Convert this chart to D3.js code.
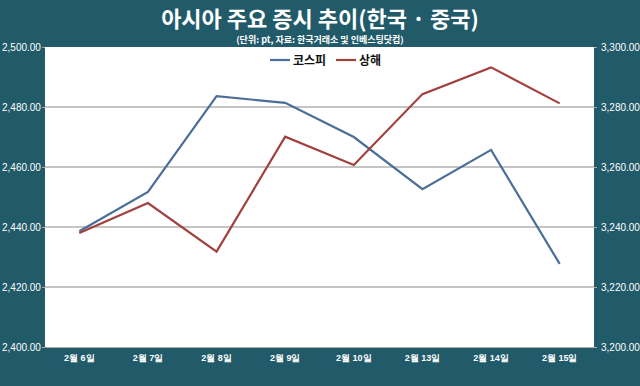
<!DOCTYPE html>
<html>
<head>
<meta charset="utf-8">
<script src="https://cdn.jsdelivr.net/npm/d3@7"></script>
<style>
  html, body { margin: 0; padding: 0; background: #215a69; }
  svg { display: block; font-family: "Noto Sans CJK KR", "Noto Sans", sans-serif; }
</style>
</head>
<body>
<div id="chart"></div>
<script>
// data
const dates = ['2월 6일', '2월 7일', '2월 8일', '2월 9일', '2월 10일', '2월 13일', '2월 14일', '2월 15일'];
const kospi = [2438.6, 2451.7, 2483.6, 2481.4, 2470.0, 2452.6, 2465.7, 2427.7];
const shanghai = [3238.0, 3248.0, 3231.8, 3270.1, 3260.7, 3284.3, 3293.2, 3281.2];
const leftTicks = [2400, 2420, 2440, 2460, 2480, 2500];
const rightTicks = [3200, 3220, 3240, 3260, 3280, 3300];

const width = 640, height = 386;
const margin = { top: 47, right: 46, bottom: 39, left: 45 };

const svg = d3.select('#chart').append('svg')
    .attr('width', width)
    .attr('height', height);

svg.append('rect')
    .attr('width', width).attr('height', height)
    .attr('fill', '#215a69');

// title + subtitle
svg.append('text')
    .attr('x', 320).attr('y', 27)
    .attr('text-anchor', 'middle')
    .attr('fill', '#fff')
    .attr('font-size', 22)
    .attr('font-weight', 'bold')
    .text('아시아 주요 증시 추이(한국 · 중국)');

svg.append('text')
    .attr('x', 320).attr('y', 43)
    .attr('text-anchor', 'middle')
    .attr('fill', '#fff')
    .attr('font-size', 9)
    .attr('font-weight', 'bold')
    .text('(단위: pt, 자료: 한국거래소 및 인베스팅닷컴)');

const x = d3.scaleBand()
    .domain(dates)
    .range([margin.left, width - margin.right]);

const yL = d3.scaleLinear()
    .domain([2400, 2500])
    .range([height - margin.bottom, margin.top]);

const yR = d3.scaleLinear()
    .domain([3200, 3300])
    .range([height - margin.bottom, margin.top]);

// plot area
svg.append('rect')
    .attr('x', margin.left).attr('y', margin.top)
    .attr('width', width - margin.left - margin.right)
    .attr('height', height - margin.top - margin.bottom)
    .attr('fill', '#fff');

// gridlines
svg.append('g')
    .selectAll('line')
    .data(leftTicks.slice(1, -1))
    .join('line')
    .attr('x1', margin.left).attr('x2', width - margin.right)
    .attr('y1', d => yL(d)).attr('y2', d => yL(d))
    .attr('stroke', '#8a8a8a')
    .attr('stroke-width', 1);

// left axis
const fmt = d3.format(',.2f');
const gL = svg.append('g')
    .attr('transform', `translate(${margin.left},0)`)
    .call(d3.axisLeft(yL).tickValues(leftTicks).tickFormat(fmt).tickSize(3).tickPadding(1));
gL.select('.domain').remove();
gL.selectAll('line').attr('stroke', '#aaa');
gL.selectAll('text')
    .attr('fill', '#fff')
    .attr('font-size', 10)
    .attr('text-anchor', 'start')
    .attr('x', -43)
    .style('font-family', '"Liberation Sans", Arial, sans-serif');

// right axis
const gR = svg.append('g')
    .attr('transform', `translate(${width - margin.right},0)`)
    .call(d3.axisRight(yR).tickValues(rightTicks).tickFormat(fmt).tickSize(3).tickPadding(4));
gR.select('.domain').remove();
gR.selectAll('line').attr('stroke', '#aaa');
gR.selectAll('text')
    .attr('fill', '#fff')
    .attr('font-size', 10)
    .style('font-family', '"Liberation Sans", Arial, sans-serif');

// bottom axis
const gB = svg.append('g')
    .attr('transform', `translate(0,${height - margin.bottom})`)
    .call(d3.axisBottom(x).tickSize(0).tickPadding(8));
gB.select('.domain').attr('stroke', '#aaa');
gB.selectAll('text')
    .attr('fill', '#fff')
    .attr('font-size', 9)
    .attr('font-weight', 'bold');

// lines
const lineL = d3.line()
    .x((d, i) => x(dates[i]) + x.bandwidth() / 2)
    .y(d => yL(d));
const lineR = d3.line()
    .x((d, i) => x(dates[i]) + x.bandwidth() / 2)
    .y(d => yR(d));

svg.append('path')
    .datum(kospi)
    .attr('d', lineL)
    .attr('fill', 'none')
    .attr('stroke', '#4a6e98')
    .attr('stroke-width', 2.2);

svg.append('path')
    .datum(shanghai)
    .attr('d', lineR)
    .attr('fill', 'none')
    .attr('stroke', '#a2403e')
    .attr('stroke-width', 2.2);

// legend
const legend = [
    { name: '코스피', color: '#4a6e98', x: 270 },
    { name: '상해', color: '#a2403e', x: 336 }
];
const lg = svg.append('g')
    .selectAll('g')
    .data(legend)
    .join('g')
    .attr('transform', d => `translate(${d.x},60)`);
lg.append('line')
    .attr('x1', 0).attr('x2', 20)
    .attr('y1', 0).attr('y2', 0)
    .attr('stroke', d => d.color)
    .attr('stroke-width', 2.2);
lg.append('text')
    .attr('x', 23).attr('y', 4.5)
    .attr('font-size', 12)
    .attr('font-weight', 'bold')
    .attr('fill', '#111')
    .text(d => d.name);
</script>
</body>
</html>
